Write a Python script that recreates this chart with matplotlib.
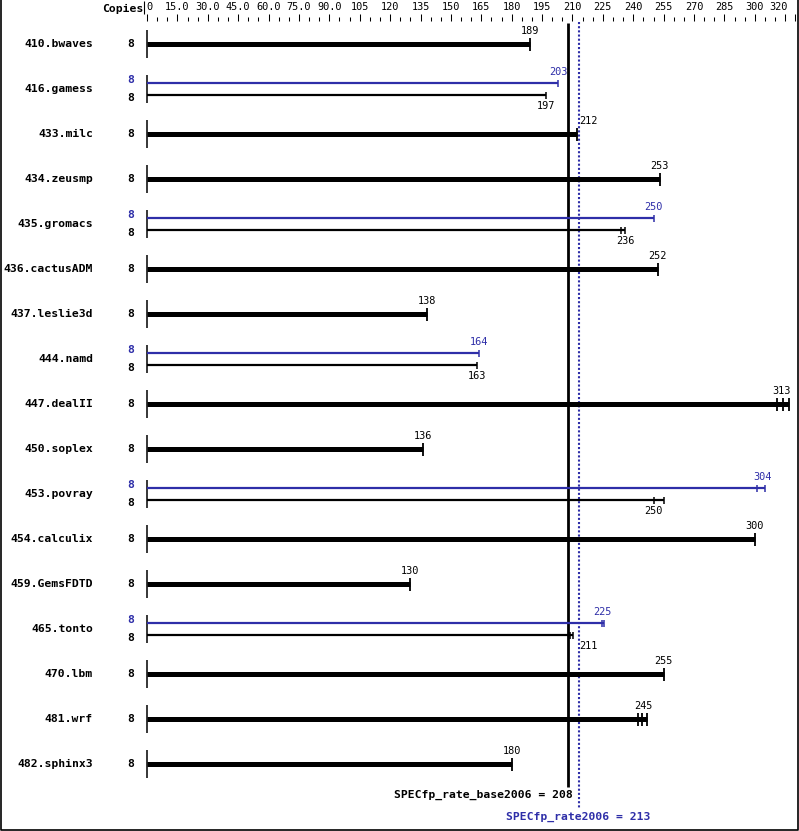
import numpy as np
import matplotlib
matplotlib.use('Agg')
import matplotlib.pyplot as plt

# --- data ---
benchmarks = ['410.bwaves', '416.gamess', '433.milc', '434.zeusmp', '435.gromacs',
              '436.cactusADM', '437.leslie3d', '444.namd', '447.dealII', '450.soplex',
              '453.povray', '454.calculix', '459.GemsFDTD', '465.tonto', '470.lbm',
              '481.wrf', '482.sphinx3']
copies = [8] * len(benchmarks)
base_score = [189, 197, 212, 253, 236, 252, 138, 163, 313, 136, 250, 300, 130, 211, 255, 245, 180]
peak_score = [None, 203, None, None, 250, None, None, 164, None, None, 304, None, None, 225,
              None, None, None]
base_runs = [[189], [197], [212], [253], [234, 236], [252], [138], [163], [311, 314, 317],
             [136], [250, 255], [300], [130], [209, 210.5], [255], [242.5, 244.5, 247], [180]]
peak_runs = [None, [203], None, None, [250], None, None, [164], None, None, [301, 305],
             None, None, [224.5, 225.5], None, None, None]
base_overall = 208
peak_overall = 213
tick_vals = list(range(0, 301, 15)) + [320]
tick_text = ['0', '15.0', '30.0', '45.0', '60.0', '75.0', '90.0'] + \
            [str(v) for v in range(105, 301, 15)] + ['320']

BLUE = '#2e2ea8'
MONO = 'DejaVu Sans Mono'
VAL_FS = 7.4

# --- layout: pixel scale of the original image ---
W, H = 799, 831
X0, SCALE = 147, 2.026


def px(p):
    return (p - X0) / SCALE


fig = plt.figure(figsize=(W / 100, H / 100), dpi=100)
ax = fig.add_axes([0, 0, 1, 1])
ax.set_xlim(px(0), px(W))
ax.set_ylim(H, 0)
ax.axis('off')

# header
ax.text(px(143), 9, 'Copies', ha='right', va='center', fontsize=8.2,
        family=MONO, fontweight='bold')
ax.vlines(px(144), 1, 14, color='black', lw=0.8)
for v in range(0, 321, 5):
    top = 14 if (v % 15 == 0 or v == 320) else 16.5
    ax.vlines(v, top, 21, color='black', lw=0.75)
for v, t in zip(tick_vals, tick_text):
    if v == 0:
        ax.text(v - 0.5, 7, t, ha='left', va='center', fontsize=VAL_FS, family=MONO)
    elif v == 320:
        ax.text(px(788), 7, t, ha='right', va='center', fontsize=VAL_FS, family=MONO)
    else:
        ax.text(v, 7, t, ha='center', va='center', fontsize=VAL_FS, family=MONO)

# reference lines
ax.vlines(base_overall, 23, 787, color='black', lw=2)
ax.vlines(peak_overall, 22, 809, color=BLUE, lw=1.5, linestyles=(0, (1, 1)))


def value_label(val, y, color):
    if abs(val - peak_overall) < 5:
        ax.text(px(579), y, str(val), ha='left', va='center', fontsize=VAL_FS,
                family=MONO, color=color)
    else:
        ax.text(val, y, str(val), ha='center', va='center', fontsize=VAL_FS,
                family=MONO, color=color)


for i, name in enumerate(benchmarks):
    yc = 44 + 45 * i
    ax.text(px(93), yc, name, ha='right', va='center', fontsize=8.2,
            family=MONO, fontweight='bold')
    ax.vlines(0, yc - 14, yc + 14, color='black', lw=1.1)
    if peak_runs[i] is None:
        ax.text(px(131), yc, str(copies[i]), ha='center', va='center', fontsize=8.2,
                family=MONO, fontweight='bold')
        ax.hlines(yc, 0, max(base_runs[i]), color='black', lw=3.6)
        for r in base_runs[i]:
            ax.vlines(r, yc - 6, yc + 7, color='black', lw=1.3)
        value_label(base_score[i], yc - 13, 'black')
    else:
        yp, yb = yc - 6, yc + 6
        ax.text(px(131), yc - 9, str(copies[i]), ha='center', va='center', fontsize=8.2,
                family=MONO, fontweight='bold', color=BLUE)
        ax.text(px(131), yc + 9, str(copies[i]), ha='center', va='center', fontsize=8.2,
                family=MONO, fontweight='bold')
        ax.hlines(yp, 0, max(peak_runs[i]), color=BLUE, lw=1.6)
        for r in peak_runs[i]:
            ax.vlines(r, yp - 3.5, yp + 3.5, color=BLUE, lw=1.1)
        value_label(peak_score[i], yp - 11, BLUE)
        ax.hlines(yb, 0, max(base_runs[i]), color='black', lw=1.6)
        for r in base_runs[i]:
            ax.vlines(r, yb - 3.5, yb + 3.5, color='black', lw=1.1)
        value_label(base_score[i], yb + 11, 'black')

# summary texts
ax.text(px(573), 795, 'SPECfp_rate_base2006 = %d' % base_overall, ha='right', va='center',
        fontsize=8.2, family=MONO, fontweight='bold')
ax.text(peak_overall, 817, 'SPECfp_rate2006 = %d' % peak_overall, ha='center', va='center',
        fontsize=8.2, family=MONO, fontweight='bold', color=BLUE)

# image frame
ax.plot([px(0.5), px(0.5), px(798), px(798)], [0, 830, 830, 0], color='black', lw=1.2,
        clip_on=False)

fig.savefig('out.png', dpi=100, facecolor='white')
plt.close(fig)
